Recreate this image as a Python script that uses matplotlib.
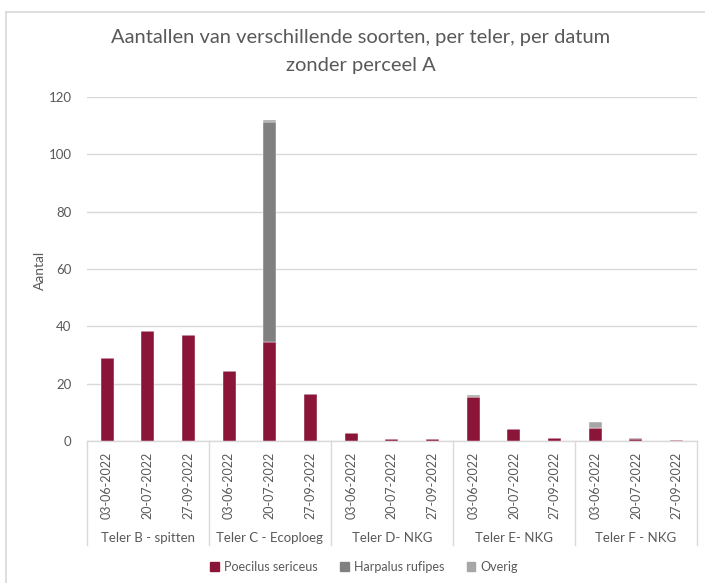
import numpy as np
import matplotlib
matplotlib.use("Agg")
import matplotlib.pyplot as plt
from matplotlib.lines import Line2D
from matplotlib.patches import Patch

plt.rcParams['font.family'] = ['Lato', 'DejaVu Sans']

# data
growers = ["Teler B - spitten", "Teler C - Ecoploeg", "Teler D- NKG", "Teler E- NKG", "Teler F - NKG"]
dates = ["03-06-2022", "20-07-2022", "27-09-2022"]
poecilus = [29.0, 38.5, 37.0, 24.4, 34.7, 16.4, 2.7, 0.6, 0.7, 15.3, 4.1, 1.0, 4.7, 0.8, 0.3]
harpalus = [0, 0, 0, 0, 76.7, 0, 0, 0.2, 0, 0, 0, 0, 0, 0.2, 0]
overig = [0, 0, 0, 0, 0.7, 0, 0, 0, 0, 0.7, 0, 0, 1.8, 0, 0]

c_poe = "#8A1538"
c_harp = "#808080"
c_ov = "#A6A6A6"
txt = "#595959"
grid_c = "#D9D9D9"

W, H = 705, 583
fig = plt.figure(figsize=(W / 100, H / 100), dpi=100)

# chart frame (partly cut off in the screenshot)
fig.add_artist(Line2D([6 / W, 6 / W], [0, 1 - 12 / H], color="#D9D9D9", lw=1.2))
fig.add_artist(Line2D([6 / W, 1], [1 - 12 / H, 1 - 12 / H], color="#D9D9D9", lw=1.2))

ax_left, ax_right = 86.7 / W, 697 / W
ax_bot, ax_top = 1 - 441 / H, 1 - 97 / H
ax = fig.add_axes([ax_left, ax_bot, ax_right - ax_left, ax_top - ax_bot])

n = len(poecilus)
x = np.arange(n)
poe = np.array(poecilus)
har = np.array(harpalus)
ov = np.array(overig)
bw = 0.32
ax.bar(x, poe, width=bw, color=c_poe, edgecolor="white", linewidth=0.3, zorder=3)
ax.bar(x, har, width=bw, bottom=poe, color=c_harp, edgecolor="white", linewidth=0.3, zorder=3)
ax.bar(x, ov, width=bw, bottom=poe + har, color=c_ov, edgecolor="white", linewidth=0.3, zorder=3)

ax.set_xlim(-0.5, n - 0.5)
ax.set_ylim(0, 120)
ax.set_yticks(np.arange(0, 121, 20))
ax.tick_params(axis="y", length=0, pad=11, labelsize=9.5, labelcolor=txt)
ax.tick_params(axis="x", length=0, labelbottom=False)
ax.set_xticks([])
ax.grid(axis="y", color=grid_c, linewidth=1, zorder=0)
for s in ["top", "right", "left"]:
    ax.spines[s].set_visible(False)
ax.spines["bottom"].set_color(grid_c)
ax.spines["bottom"].set_linewidth(1)

trans = ax.get_xaxis_transform()
sep_bottom = (441 - 545) / 344
for g in range(len(growers) + 1):
    xs = g * 3 - 0.5
    ax.plot([xs, xs], [0, sep_bottom], color=grid_c, lw=1, transform=trans, clip_on=False)
for i in range(n):
    ax.text(i, -0.03, dates[i % 3], rotation=90, ha="center", va="top",
            fontsize=9, color=txt, transform=trans)
for g, name in enumerate(growers):
    ax.text(g * 3 + 1, (441 - 538) / 344, name, ha="center", va="center",
            fontsize=9.5, color=txt, transform=trans)

fig.text(40 / W, 1 - 270 / H, "Aantal", rotation=90, ha="center", va="center",
         fontsize=10, color=txt)

fig.text(361 / W, 1 - 37 / H, "Aantallen van verschillende soorten, per teler, per datum",
         ha="center", va="center", fontsize=14.5, color=txt)
fig.text(361 / W, 1 - 65 / H, "zonder perceel A",
         ha="center", va="center", fontsize=14.5, color=txt)

handles = [Patch(color=c_poe), Patch(color=c_harp), Patch(color=c_ov)]
labels = ["Poecilus sericeus", "Harpalus rufipes", "Overig"]
fig.legend(handles, labels, loc="center", bbox_to_anchor=(364 / W, 1 - 567 / H), ncol=3,
           frameon=False, fontsize=9, labelcolor=txt, handlelength=0.7, handleheight=0.7,
           handletextpad=0.4, columnspacing=1.8)

fig.savefig("out.png", dpi=100)
